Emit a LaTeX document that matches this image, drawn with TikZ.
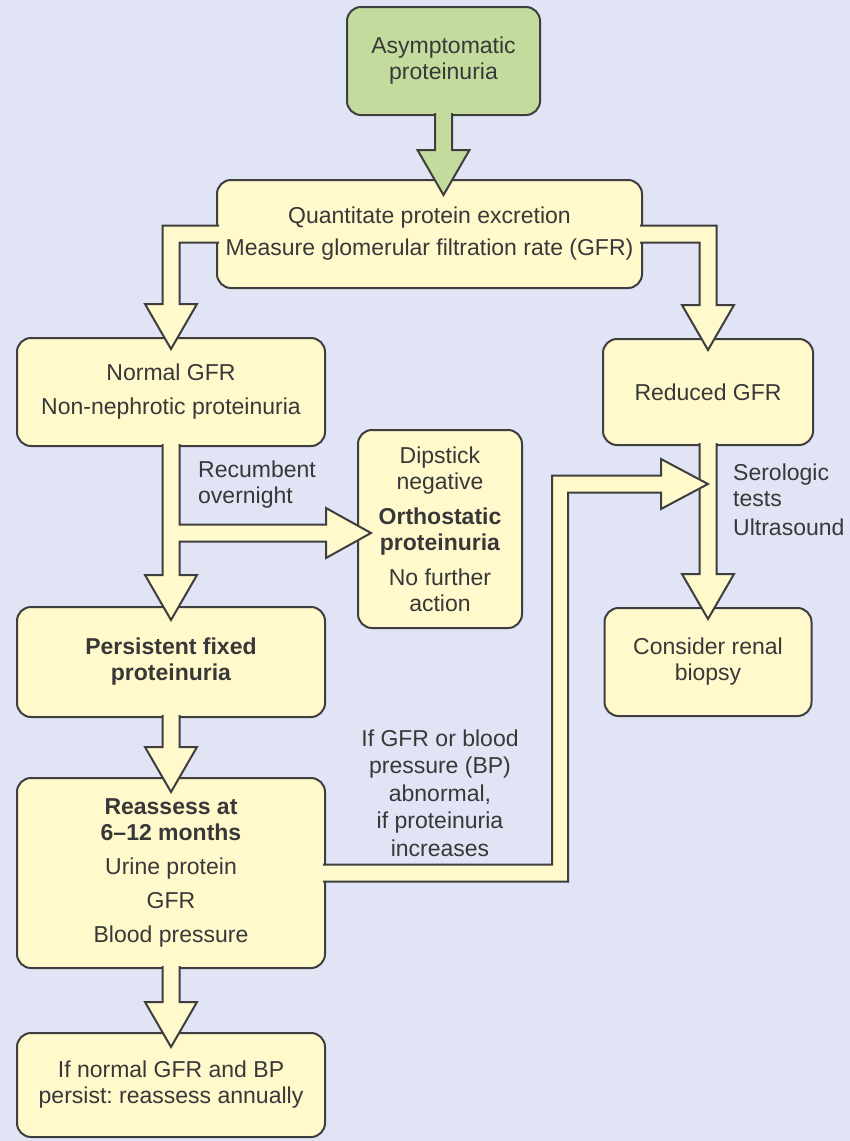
\documentclass[tikz,border=0pt]{standalone}
\usepackage{fontspec}
\setmainfont{Liberation Sans}
\usepackage{tikz}
\usetikzlibrary{calc}
\frenchspacing

\definecolor{bgblue}{RGB}{224,228,245}
\definecolor{boxyellow}{RGB}{255,249,204}
\definecolor{boxgreen}{RGB}{196,219,158}
\definecolor{edgegray}{RGB}{62,62,62}
\definecolor{textgray}{RGB}{56,56,56}

\tikzset{
  box/.style={draw=edgegray, line width=2pt, fill=boxyellow, rounded corners=14pt,
    align=center, inner sep=0pt, text=textgray},
  fatline/.style={draw=edgegray, line width=2pt, line join=miter},
  lbl/.style={text=textgray, inner sep=0pt},
}

% fat arrow: fill first, then the open outline
\newcommand{\fatpath}[2][boxyellow]{\fill[#1] #2 -- cycle; \draw[fatline] #2;}
\newcommand{\fatdown}[3][boxyellow]{%
  \fatpath[#1]{($(#2)+(-8.5,-3)$) -- ($(#3)+(-8.5,-45)$) -- ($(#3)+(-26,-45)$) -- (#3)
    -- ($(#3)+(26,-45)$) -- ($(#3)+(8.5,-45)$) -- ($(#2)+(8.5,-3)$)}}

\begin{document}
\begin{tikzpicture}[x=1pt, y=-1pt, font=\fontsize{23}{26}\selectfont]

\useasboundingbox (0,0) rectangle (850,1141);
\fill[bgblue] (0,0) rectangle (850,1141);

% boxes
\node[box, fill=boxgreen, minimum width=193pt, minimum height=108pt] (start) at (443.5,61)
  {Asymptomatic\\proteinuria};
\node[box, minimum width=425pt, minimum height=108pt] (quant) at (429.5,234)
  {Quantitate protein excretion\\[6pt]Measure glomerular filtration rate (GFR)};
\node[box, minimum width=308pt, minimum height=108pt] (normal) at (171,392)
  {Normal GFR\\[8pt]Non-nephrotic proteinuria};
\node[box, minimum width=210pt, minimum height=106pt] (reduced) at (708,392)
  {Reduced GFR};
\node[box, minimum width=164pt, minimum height=198pt] (dip) at (440,529)
  {Dipstick\\negative\\[9pt]\textbf{Orthostatic}\\\textbf{proteinuria}\\[9pt]No further\\action};
\node[box, minimum width=308pt, minimum height=110pt] (persist) at (171,662)
  {\textbf{Persistent fixed}\\\textbf{proteinuria}};
\node[box, minimum width=207pt, minimum height=108pt] (biopsy) at (708,662)
  {Consider renal\\biopsy};
\node[box, minimum width=308pt, minimum height=190pt] (reassess) at (171,873)
  {\textbf{Reassess at}\\\textbf{6--12 months}\\[8pt]Urine protein\\[8pt]GFR\\[8pt]Blood pressure};
\node[box, minimum width=308pt, minimum height=104pt] (annual) at (171,1085)
  {If normal GFR and BP\\persist: reassess annually};

% labels
\node[lbl, anchor=west, align=left] (recumb) at (198,485) {Recumbent\\overnight};
\node[lbl, anchor=west, align=left] (sero) at (733,500) {Serologic\\tests\\[3pt]Ultrasound};
\node[lbl, align=center, font=\fontsize{23}{27.5}\selectfont] (ifgfr) at (440,793)
  {If GFR or blood\\pressure (BP)\\abnormal,\\if proteinuria\\increases};

% connectors
\coordinate (t1) at ($(start.south |- quant.north)+(0,16)$);
\fatdown[boxgreen]{start.south}{t1}

\coordinate (c1) at (normal.north |- quant.west);
\coordinate (t2) at ($(normal.north)+(0,12)$);
\fatpath{($(quant.west)+(3,-8.5)$) -- ($(c1)+(-8.5,-8.5)$) -- ($(t2)+(-8.5,-45)$) -- ($(t2)+(-26,-45)$)
  -- (t2) -- ($(t2)+(26,-45)$) -- ($(t2)+(8.5,-45)$) -- ($(c1)+(8.5,8.5)$) -- ($(quant.west)+(3,8.5)$)}

\coordinate (c2) at (reduced.north |- quant.east);
\coordinate (t3) at ($(reduced.north)+(0,12)$);
\fatpath{($(quant.east)+(-3,-8.5)$) -- ($(c2)+(8.5,-8.5)$) -- ($(t3)+(8.5,-45)$) -- ($(t3)+(26,-45)$)
  -- (t3) -- ($(t3)+(-26,-45)$) -- ($(t3)+(-8.5,-45)$) -- ($(c2)+(-8.5,8.5)$) -- ($(quant.east)+(-3,8.5)$)}

\coordinate (q) at ($(dip.west)+(14,4)$);
\coordinate (j) at (normal.south |- q);
\coordinate (p) at ($(persist.north)+(0,14)$);
\fatpath{($(normal.south)+(-8.5,-3)$) -- ($(p)+(-8.5,-45)$) -- ($(p)+(-26,-45)$) -- (p)
  -- ($(p)+(26,-45)$) -- ($(p)+(8.5,-45)$) -- ($(j)+(8.5,8.5)$) -- ($(q)+(-45,8.5)$)
  -- ($(q)+(-45,25)$) -- (q) -- ($(q)+(-45,-25)$) -- ($(q)+(-45,-8.5)$) -- ($(j)+(8.5,-8.5)$)
  -- ($(normal.south)+(8.5,-3)$)}

\coordinate (t5) at ($(reassess.north)+(0,15)$);
\fatdown{persist.south}{t5}
\coordinate (t6) at ($(annual.north)+(0,15)$);
\fatdown{reassess.south}{t6}
\coordinate (t7) at ($(reduced.south |- biopsy.north)+(0,12)$);
\fatdown{reduced.south}{t7}

\coordinate (bend) at (560,0);
\coordinate (merge) at ($(reduced.south)+(0,38)$);
\coordinate (b1) at (bend |- reassess.east);
\coordinate (b2) at (bend |- merge);
\fatpath{($(reassess.east)+(-3,-8.5)$) -- ($(b1)+(-8,-8.5)$) -- ($(b2)+(-8,-8.5)$) -- ($(merge)+(-47,-8.5)$)
  -- ($(merge)+(-47,-25)$) -- (merge) -- ($(merge)+(-47,25)$) -- ($(merge)+(-47,8.5)$)
  -- ($(b2)+(8,8.5)$) -- ($(b1)+(8,8.5)$) -- ($(reassess.east)+(-3,8.5)$)}

\end{tikzpicture}
\end{document}
